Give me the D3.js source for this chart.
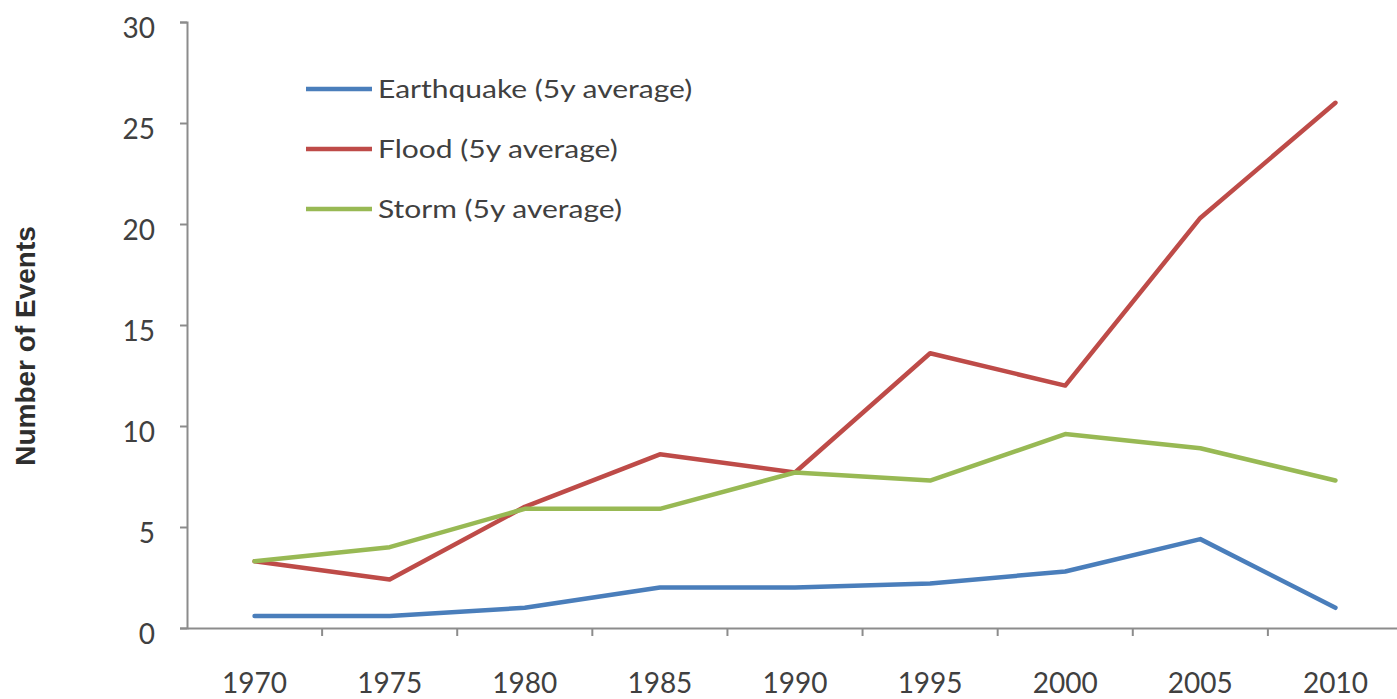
<!DOCTYPE html>
<html>
<head>
<meta charset="utf-8">
<script src="https://cdn.jsdelivr.net/npm/d3@7"></script>
<style>
  html, body { margin: 0; padding: 0; background: #ffffff; }
  svg { display: block; }
</style>
</head>
<body>
<svg id="chart" width="1397" height="699"></svg>
<script>
// Five-year averages of recorded disaster events
const years = ["1970", "1975", "1980", "1985", "1990", "1995", "2000", "2005", "2010"];
const earthquake = [0.6, 0.6, 1.0, 2.0, 2.0, 2.2, 2.8, 4.4, 1.0];
const flood = [3.3, 2.4, 6.0, 8.6, 7.7, 13.6, 12.0, 20.3, 26.0];
const storm = [3.3, 4.0, 5.9, 5.9, 7.7, 7.3, 9.6, 8.9, 7.3];
const yTicks = [0, 5, 10, 15, 20, 25, 30];
const seriesNames = ["Earthquake (5y average)", "Flood (5y average)", "Storm (5y average)"];
const seriesColors = ["#4a7ebb", "#be4b48", "#98b954"];

const series = [earthquake, flood, storm].map((values, i) => ({
  name: seriesNames[i],
  color: seriesColors[i],
  values: values
}));

const svg = d3.select("#chart");
const plotLeft = 187, plotRight = 1403, plotTop = 22, plotBottom = 628;

const x = d3.scaleBand().domain(years).range([plotLeft, plotRight]);
const y = d3.scaleLinear().domain([0, 30]).range([plotBottom, plotTop]);

const axisColor = "#8c8c8c";
const labelColor = "#404040";
const tickFont = "Lato, 'Open Sans', sans-serif";

// Y axis
const yAxis = svg.append("g")
  .attr("transform", `translate(${plotLeft},0)`)
  .call(d3.axisLeft(y).tickValues(yTicks).tickSize(7).tickPadding(25));
yAxis.select(".domain").attr("stroke", axisColor).attr("stroke-width", 2);
yAxis.selectAll(".tick line").attr("stroke", axisColor).attr("stroke-width", 2);
yAxis.selectAll(".tick text")
  .attr("fill", labelColor)
  .attr("font-family", tickFont)
  .attr("font-size", 28)
  .attr("dy", "0.54em");

// X axis: ticks sit between the categories
const xAxis = svg.append("g")
  .attr("transform", `translate(0,${plotBottom})`)
  .call(d3.axisBottom(x).tickSize(0).tickPadding(45).tickSizeOuter(0));
xAxis.select(".domain").attr("stroke", axisColor).attr("stroke-width", 2);
xAxis.selectAll(".tick text")
  .attr("fill", labelColor)
  .attr("font-family", tickFont)
  .attr("font-size", 28);
xAxis.selectAll(".sep")
  .data(years.slice(1))
  .join("line")
  .attr("class", "sep")
  .attr("x1", d => x(d))
  .attr("x2", d => x(d))
  .attr("y1", 0)
  .attr("y2", 8)
  .attr("stroke", axisColor)
  .attr("stroke-width", 2);

// Y axis title
svg.append("text")
  .attr("transform", `translate(35,346) rotate(-90)`)
  .attr("text-anchor", "middle")
  .attr("font-family", "'Liberation Sans', Arial, sans-serif")
  .attr("font-weight", "bold")
  .attr("font-size", 28)
  .attr("fill", "#2e2e2e")
  .text("Number of Events");

// Series lines
const line = d3.line()
  .x((d, i) => x(years[i]) + x.bandwidth() / 2)
  .y(d => y(d));

svg.append("g")
  .selectAll("path")
  .data(series)
  .join("path")
  .attr("d", d => line(d.values))
  .attr("fill", "none")
  .attr("stroke", d => d.color)
  .attr("stroke-width", 4.5)
  .attr("stroke-linejoin", "round")
  .attr("stroke-linecap", "round");

// Legend
const legend = svg.append("g").attr("transform", "translate(306,89)");
const rows = legend.selectAll("g")
  .data(series)
  .join("g")
  .attr("transform", (d, i) => `translate(0,${i * 60})`);
rows.append("line")
  .attr("x1", 0).attr("x2", 66)
  .attr("stroke", d => d.color)
  .attr("stroke-width", 4.5);
rows.append("text")
  .attr("transform", "translate(72,0) scale(1.2,1)")
  .attr("dy", "0.35em")
  .attr("font-family", tickFont)
  .attr("font-size", 25)
  .attr("fill", labelColor)
  .text(d => d.name);
</script>
</body>
</html>
